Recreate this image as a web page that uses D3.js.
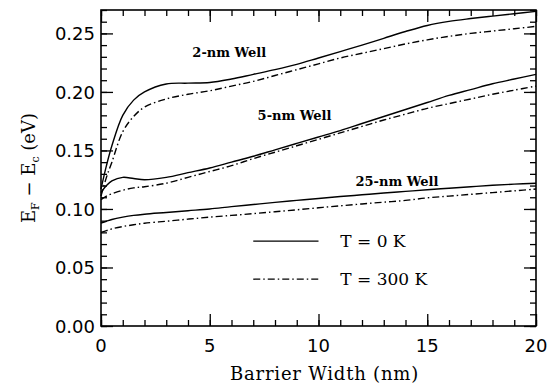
<!DOCTYPE html>
<html>
<head>
<meta charset="utf-8">
<script src="https://cdn.jsdelivr.net/npm/d3@7"></script>
<style>
  body { margin: 0; background: #fff; }
  svg { display: block; }
</style>
</head>
<body>
<svg id="chart" width="555" height="389"></svg>
<script>
// barrier width (nm)
const xs = [0, 0.25, 0.5, 1, 1.5, 2, 3, 4, 5, 6, 7, 8, 9, 10, 11, 12, 13, 14, 15, 16, 17, 18, 19, 20]

// E_F - E_c (eV), T = 0 K (solid) and T = 300 K (dash-dot)
const well2_0K   = [0.117, 0.137, 0.154, 0.180, 0.193, 0.200, 0.2068, 0.2075, 0.208, 0.211, 0.215, 0.219, 0.2235, 0.229, 0.2345, 0.240, 0.2458, 0.2516, 0.2568, 0.2603, 0.2627, 0.2648, 0.2668, 0.2688]
const well2_300K = [0.111, 0.127, 0.140, 0.166, 0.179, 0.187, 0.194, 0.198, 0.201, 0.205, 0.209, 0.214, 0.219, 0.224, 0.229, 0.233, 0.237, 0.241, 0.2445, 0.2475, 0.250, 0.252, 0.254, 0.256]
const well5_0K   = [0.114, 0.120, 0.124, 0.127, 0.126, 0.125, 0.127, 0.131, 0.135, 0.140, 0.145, 0.1505, 0.156, 0.1615, 0.167, 0.173, 0.179, 0.185, 0.191, 0.197, 0.202, 0.207, 0.211, 0.215]
const well5_300K = [0.108, 0.111, 0.113, 0.116, 0.118, 0.119, 0.122, 0.127, 0.132, 0.137, 0.143, 0.1485, 0.154, 0.1595, 0.165, 0.1705, 0.176, 0.181, 0.186, 0.190, 0.194, 0.198, 0.2015, 0.205]
const well25_0K   = [0.088, 0.0895, 0.091, 0.093, 0.0945, 0.0955, 0.097, 0.0985, 0.100, 0.102, 0.1038, 0.1056, 0.1073, 0.109, 0.1106, 0.1121, 0.1136, 0.115, 0.1164, 0.1177, 0.119, 0.1202, 0.1212, 0.122]
const well25_300K = [0.080, 0.0815, 0.083, 0.085, 0.0865, 0.0878, 0.0895, 0.0913, 0.093, 0.0945, 0.096, 0.0976, 0.0993, 0.101, 0.1027, 0.1043, 0.1058, 0.1073, 0.1095, 0.111, 0.1125, 0.114, 0.1155, 0.117]

const curves = [
    { values: well2_0K, dash: null },
    { values: well2_300K, dash: "7,3,1.5,3" },
    { values: well5_0K, dash: null },
    { values: well5_300K, dash: "7,3,1.5,3" },
    { values: well25_0K, dash: null },
    { values: well25_300K, dash: "7,3,1.5,3" },
]

const wellLabels = [
    { text: "2-nm Well", x: 4.2, y: 0.2295 },
    { text: "5-nm Well", x: 7.2, y: 0.176 },
    { text: "25-nm Well", x: 11.7, y: 0.120 },
]
const legendItems = [
    { text: "T = 0 K", dash: null, y: 0.0725 },
    { text: "T = 300 K", dash: "7,3,1.5,3", y: 0.040 },
]

const xTicks = [0, 5, 10, 15, 20]
const yTicks = [0, 0.05, 0.10, 0.15, 0.20, 0.25]

const margin = { left: 101, right: 19, top: 10, bottom: 63 }
const W = 555, H = 389
const svg = d3.select("#chart")

const x = d3.scaleLinear().domain([0, 20]).range([margin.left, W - margin.right])
const y = d3.scaleLinear().domain([0, 0.27]).range([H - margin.bottom, margin.top])

const serif = "'DejaVu Serif', serif"
const sans = "'DejaVu Sans', sans-serif"

// 四边的刻度，朝内
const xMinor = d3.range(0, 21, 1)
const yMinor = d3.range(0, 0.2701, 0.01)
const majorLen = 12, minorLen = 6

function axisTicks(axisGen, transform, vals, len) {
    svg.append("g").attr("transform", transform)
        .call(axisGen.tickValues(vals).tickSize(len).tickFormat(""))
        .call(g => g.select(".domain").remove())
        .call(g => g.selectAll("line").attr("stroke", "#000").attr("stroke-width", 1.3))
}
axisTicks(d3.axisTop(x), `translate(0,${y(0)})`, xMinor, minorLen)
axisTicks(d3.axisTop(x), `translate(0,${y(0)})`, xTicks, majorLen)
axisTicks(d3.axisBottom(x), `translate(0,${y(0.27)})`, xMinor, minorLen)
axisTicks(d3.axisBottom(x), `translate(0,${y(0.27)})`, xTicks, majorLen)
axisTicks(d3.axisRight(y), `translate(${x(0)},0)`, yMinor, minorLen)
axisTicks(d3.axisRight(y), `translate(${x(0)},0)`, yTicks, majorLen)
axisTicks(d3.axisLeft(y), `translate(${x(20)},0)`, yMinor, minorLen)
axisTicks(d3.axisLeft(y), `translate(${x(20)},0)`, yTicks, majorLen)

// frame
svg.append("rect")
    .attr("x", x(0)).attr("y", y(0.27))
    .attr("width", x(20) - x(0)).attr("height", y(0) - y(0.27))
    .attr("fill", "none").attr("stroke", "#000").attr("stroke-width", 1.6)

// tick labels
svg.append("g").selectAll("text").data(xTicks).join("text")
    .attr("x", d => x(d)).attr("y", y(0) + 26)
    .attr("text-anchor", "middle")
    .attr("font-family", sans).attr("font-size", 18)
    .text(d => d)
svg.append("g").selectAll("text").data(yTicks).join("text")
    .attr("x", x(0) - 6).attr("y", d => y(d) + 7)
    .attr("text-anchor", "end")
    .attr("font-family", sans).attr("font-size", 18)
    .text(d => d.toFixed(2))

// axis titles
svg.append("text")
    .attr("x", (x(0) + x(20)) / 2 + 6).attr("y", 380)
    .attr("text-anchor", "middle")
    .attr("font-family", serif).attr("font-size", 18)
    .attr("letter-spacing", 0.8)
    .text("Barrier Width (nm)")

const yTitle = svg.append("text")
    .attr("transform", `translate(35,${(y(0) + y(0.27)) / 2}) rotate(-90)`)
    .attr("text-anchor", "middle")
    .attr("font-family", serif).attr("font-size", 18)
yTitle.append("tspan").text("E")
yTitle.append("tspan").attr("font-size", 11).attr("dy", 4).text("F")
yTitle.append("tspan").attr("dy", -4).text(" \u2212 E")
yTitle.append("tspan").attr("font-size", 11).attr("dy", 4).text("c")
yTitle.append("tspan").attr("dy", -4).text("  (eV)")

// curves
const line = d3.line()
    .x((d, i) => x(xs[i]))
    .y(d => y(d))
    .curve(d3.curveCatmullRom.alpha(0.5))

svg.append("g").selectAll("path").data(curves).join("path")
    .attr("d", d => line(d.values))
    .attr("fill", "none").attr("stroke", "#000").attr("stroke-width", 1.4)
    .attr("stroke-dasharray", d => d.dash)

// well labels
svg.append("g").selectAll("text").data(wellLabels).join("text")
    .attr("x", d => x(d.x)).attr("y", d => y(d.y))
    .attr("font-family", serif).attr("font-size", 13).attr("font-weight", "bold")
    .text(d => d.text)

// legend
const lg = svg.append("g").selectAll("g").data(legendItems).join("g")
lg.append("line")
    .attr("x1", x(7.0)).attr("x2", x(10.0))
    .attr("y1", d => y(d.y)).attr("y2", d => y(d.y))
    .attr("stroke", "#000").attr("stroke-width", 1.3)
    .attr("stroke-dasharray", d => d.dash)
lg.append("text")
    .attr("x", x(11.0)).attr("y", d => y(d.y) + 6)
    .attr("font-family", serif).attr("font-size", 17)
    .text(d => d.text)
</script>
</body>
</html>
